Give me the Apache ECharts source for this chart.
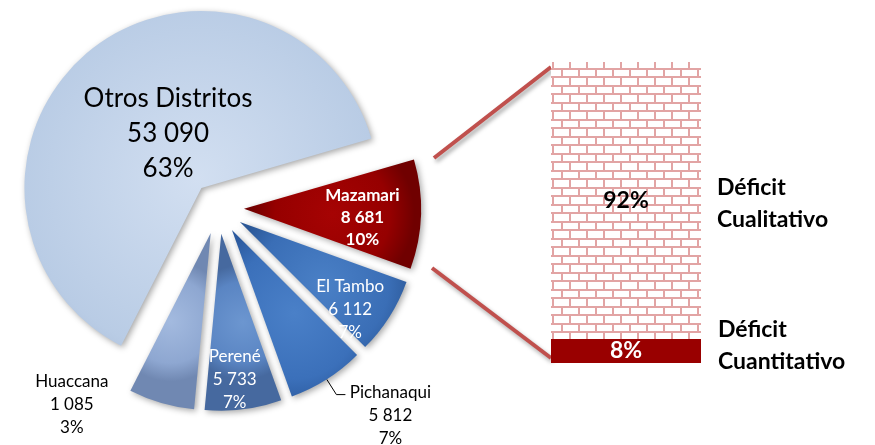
<!DOCTYPE html>
<html>
<head>
<meta charset="utf-8">
<script src="https://cdn.jsdelivr.net/npm/echarts@6/dist/echarts.min.js"></script>
<style>
  html, body { margin: 0; padding: 0; background: #fff; }
  #chart { width: 875px; height: 445px; }
</style>
</head>
<body>
<div id="chart"></div>
<script>
// datos del grafico
const distritos = ['Otros Distritos', 'Mazamari', 'El Tambo', 'Pichanaqui', 'Perené', 'Huaccana'];
const viviendas = [53090, 8681, 6112, 5812, 5733, 1085];
const porcentajes = [63, 10, 7, 7, 7, 3];
const tamanoSector = [63, 10, 7, 7, 7, 6]; // tamaño angular

const tiposDeficit = ['Déficit Cuantitativo', 'Déficit Cualitativo'];
const deficitPct = [8, 92];

// colores de cada sector: [centro, medio, borde]
const colores = [
  ['#D2DFF1', '#B9CCE5', '#9DB0CE'],
  ['#A60303', '#960000', '#700000'],
  ['#4A80C6', '#3A6EB6', '#2B5796'],
  ['#4A80C8', '#3B70BA', '#2C5A9E'],
  ['#6C96D0', '#5A85C3', '#46699F'],
  ['#A3BADF', '#8EA7D1', '#7088B2']
];
// ajuste de etiquetas internas (dx, dy)
const ajusteEtiqueta = [[25, 16], [27, 6], [33, 39], null, [2, 55], null];

function miles(v) {
  return String(v).replace(/\B(?=(\d{3})+(?!\d))/g, ' ');
}

function ladrillos() {
  const c = document.createElement('canvas');
  c.width = 17; c.height = 17;
  const g = c.getContext('2d');
  g.fillStyle = '#ffffff';
  g.fillRect(0, 0, 17, 17);
  g.fillStyle = '#E2A4A4';
  g.fillRect(0, 0, 17, 2);
  g.fillRect(0, 8, 17, 2);
  g.fillRect(0, 0, 2, 8);
  g.fillRect(8, 10, 2, 7);
  return c;
}

const chart = echarts.init(document.getElementById('chart'));

const textoCentrado = (i, w) =>
  '{a|' + distritos[i] + '}\n{a|' + miles(viviendas[i]) + '}\n{a|' + porcentajes[i] + '%}';

const pieData = distritos.map((n, i) => {
  const item = {
    name: n,
    value: tamanoSector[i],
    selected: true,
    itemStyle: {
      color: {
        type: 'radial', x: 0.5, y: 0.5, r: 0.75,
        colorStops: [
          { offset: 0, color: colores[i][0] },
          { offset: 0.7, color: colores[i][1] },
          { offset: 1, color: colores[i][2] }
        ]
      }
    }
  };
  if (i === 0) {
    item.label = { color: '#000', fontSize: 26, lineHeight: 35 };
  } else if (i === 1) {
    item.label = { color: '#fff', fontWeight: 'bold', fontSize: 17, lineHeight: 22 };
  } else if (i === 3) {
    item.label = {
      position: 'outside', color: '#000', padding: [42, 0, 0, 0], distanceToLabelLine: 3,
      formatter: p => textoCentrado(p.dataIndex),
      rich: { a: { width: 84, align: 'center', fontFamily: 'Lato', fontSize: 17, lineHeight: 23, color: '#000' } }
    };
    item.labelLine = { show: true, length: 18, length2: 9, lineStyle: { color: '#000', width: 1 } };
  } else if (i === 5) {
    item.label = {
      position: 'outside', color: '#000',
      formatter: p => textoCentrado(p.dataIndex),
      rich: { a: { width: 74, align: 'center', fontFamily: 'Lato', fontSize: 17, lineHeight: 23, color: '#000' } }
    };
    item.labelLine = { show: false, length: 2, length2: 47 };
  }
  return item;
});

const option = {
  animation: false,
  backgroundColor: '#fff',
  grid: { left: 551, top: 62, width: 150, height: 301 },
  xAxis: { type: 'category', data: [''], show: false },
  yAxis: { type: 'value', min: 0, max: 100, show: false },
  series: [
    {
      type: 'pie',
      center: [218, 208],
      radius: 177,
      startAngle: 243,
      selectedMode: 'multiple',
      selectedOffset: 26,
      avoidLabelOverlap: false,
      emphasis: { disabled: true },
      itemStyle: {
        shadowColor: 'rgba(0,0,0,0.35)',
        shadowBlur: 6,
        shadowOffsetX: 2,
        shadowOffsetY: 2
      },
      label: {
        show: true,
        position: 'inside',
        fontFamily: 'Lato',
        fontSize: 17,
        lineHeight: 23,
        color: '#fff',
        formatter: p => distritos[p.dataIndex] + '\n' + miles(viviendas[p.dataIndex]) + '\n' + porcentajes[p.dataIndex] + '%'
      },
      labelLayout: p => {
        const a = ajusteEtiqueta[p.dataIndex];
        return a ? { dx: a[0], dy: a[1] } : {};
      },
      data: pieData
    },
    {
      type: 'bar',
      name: tiposDeficit[0],
      stack: 'd',
      barWidth: '100%',
      data: [deficitPct[0]],
      itemStyle: { color: '#990000' },
      label: {
        show: true, position: 'inside', formatter: '{c}%',
        color: '#fff', fontFamily: 'Lato', fontWeight: 'bold', fontSize: 23
      }
    },
    {
      type: 'bar',
      name: tiposDeficit[1],
      stack: 'd',
      barWidth: '100%',
      data: [deficitPct[1]],
      itemStyle: { color: { image: ladrillos(), repeat: 'repeat' } },
      label: {
        show: true, position: 'inside', formatter: '{c}%',
        color: '#000', fontFamily: 'Lato', fontWeight: 'bold', fontSize: 23
      }
    },
    // nombres a la derecha de la barra
    {
      type: 'bar',
      stack: 'n',
      barGap: '-100%',
      barWidth: '100%',
      data: [deficitPct[0]],
      itemStyle: { color: 'transparent' },
      label: {
        show: true, position: 'right', distance: 17, offset: [0, -5],
        formatter: tiposDeficit[0].replace(' ', '\n'),
        color: '#000', fontFamily: 'Lato', fontWeight: 'bold', fontSize: 23, lineHeight: 32
      }
    },
    {
      type: 'bar',
      stack: 'n',
      barWidth: '100%',
      data: [deficitPct[1]],
      itemStyle: { color: 'transparent' },
      label: {
        show: true, position: 'right', distance: 16, offset: [0, 3],
        formatter: tiposDeficit[1].replace(' ', '\n'),
        color: '#000', fontFamily: 'Lato', fontWeight: 'bold', fontSize: 23, lineHeight: 32
      }
    }
  ],
  graphic: [
    {
      type: 'line', shape: { x1: 434, y1: 158, x2: 551, y2: 67 },
      style: { stroke: '#C0504D', lineWidth: 4, shadowBlur: 4, shadowColor: 'rgba(0,0,0,0.35)', shadowOffsetX: 2, shadowOffsetY: 3 }
    },
    {
      type: 'line', shape: { x1: 432, y1: 268, x2: 551, y2: 358 },
      style: { stroke: '#C0504D', lineWidth: 4, shadowBlur: 4, shadowColor: 'rgba(0,0,0,0.35)', shadowOffsetX: 2, shadowOffsetY: 3 }
    }
  ]
};

chart.setOption(option);
</script>
</body>
</html>
